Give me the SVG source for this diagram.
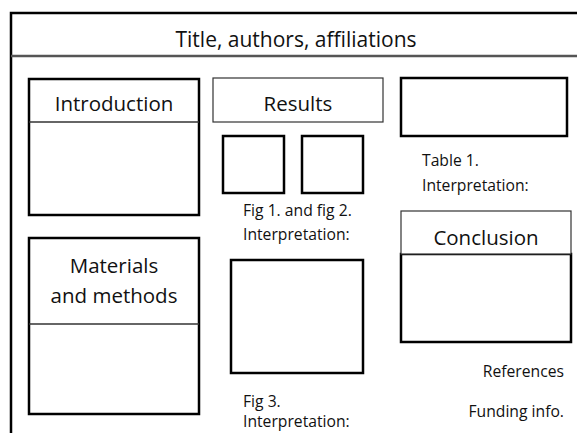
<svg xmlns="http://www.w3.org/2000/svg" width="577" height="433" viewBox="0 0 577 433">
<style>
  .big { font-family: "Open Sans", "Liberation Sans", sans-serif; font-size: 20.5px; fill: #111; }
  .small { font-family: "Open Sans", "Liberation Sans", sans-serif; font-size: 15.7px; fill: #111; }
  .thin { fill: #fff; stroke: #333; stroke-width: 1.2; }
  .thick { fill: #fff; stroke: #000; stroke-width: 2.5; }
  .div { stroke: #333; stroke-width: 1.3; }
</style>
<rect width="577" height="433" fill="#fff"/>
<g id="frame">
  <path d="M11 433 V13 H577" fill="none" stroke="#000" stroke-width="2.5"/>
  <line x1="11" y1="56" x2="577" y2="56" stroke="#555" stroke-width="2.5"/>
  <text class="big" x="296" y="47" text-anchor="middle" style="font-size:21px">Title, authors, affiliations</text>
</g>
<g id="introduction">
  <rect class="thick" x="29" y="79" width="170" height="136"/>
  <line class="div" x1="29" y1="122" x2="199" y2="122"/>
  <text class="big" x="114" y="111" text-anchor="middle">Introduction</text>
</g>
<g id="results">
  <rect class="thin" x="213" y="78" width="170" height="44"/>
  <text class="big" x="298" y="111" text-anchor="middle">Results</text>
</g>
<g id="fig1">
  <rect class="thick" x="223" y="136" width="61" height="57"/>
</g>
<g id="fig2">
  <rect class="thick" x="302" y="136" width="61" height="57"/>
  <text class="small" x="243" y="216">Fig 1. and fig 2.</text>
  <text class="small" x="243" y="240">Interpretation:</text>
</g>
<g id="table1">
  <rect class="thick" x="401" y="78" width="166" height="58"/>
  <text class="small" x="422" y="166">Table 1.</text>
  <text class="small" x="422" y="191">Interpretation:</text>
</g>
<g id="conclusion">
  <rect class="thick" x="401" y="254" width="170" height="88"/>
  <rect class="thin" x="401" y="211" width="170" height="43"/>
  <text class="big" x="486" y="245" text-anchor="middle">Conclusion</text>
</g>
<g id="materials">
  <rect class="thick" x="29" y="238" width="170" height="176"/>
  <line class="div" x1="29" y1="324" x2="199" y2="324"/>
  <text class="big" x="114" y="273" text-anchor="middle">Materials</text>
  <text class="big" x="114" y="303" text-anchor="middle">and methods</text>
</g>
<g id="fig3">
  <rect class="thick" x="231" y="260" width="132" height="113"/>
  <text class="small" x="243" y="407">Fig 3.</text>
  <text class="small" x="243" y="427">Interpretation:</text>
</g>
<g id="footer">
  <text class="small" x="564" y="377" text-anchor="end">References</text>
  <text class="small" x="564" y="417" text-anchor="end">Funding info.</text>
</g>
<g id="connectors"/>
</svg>
